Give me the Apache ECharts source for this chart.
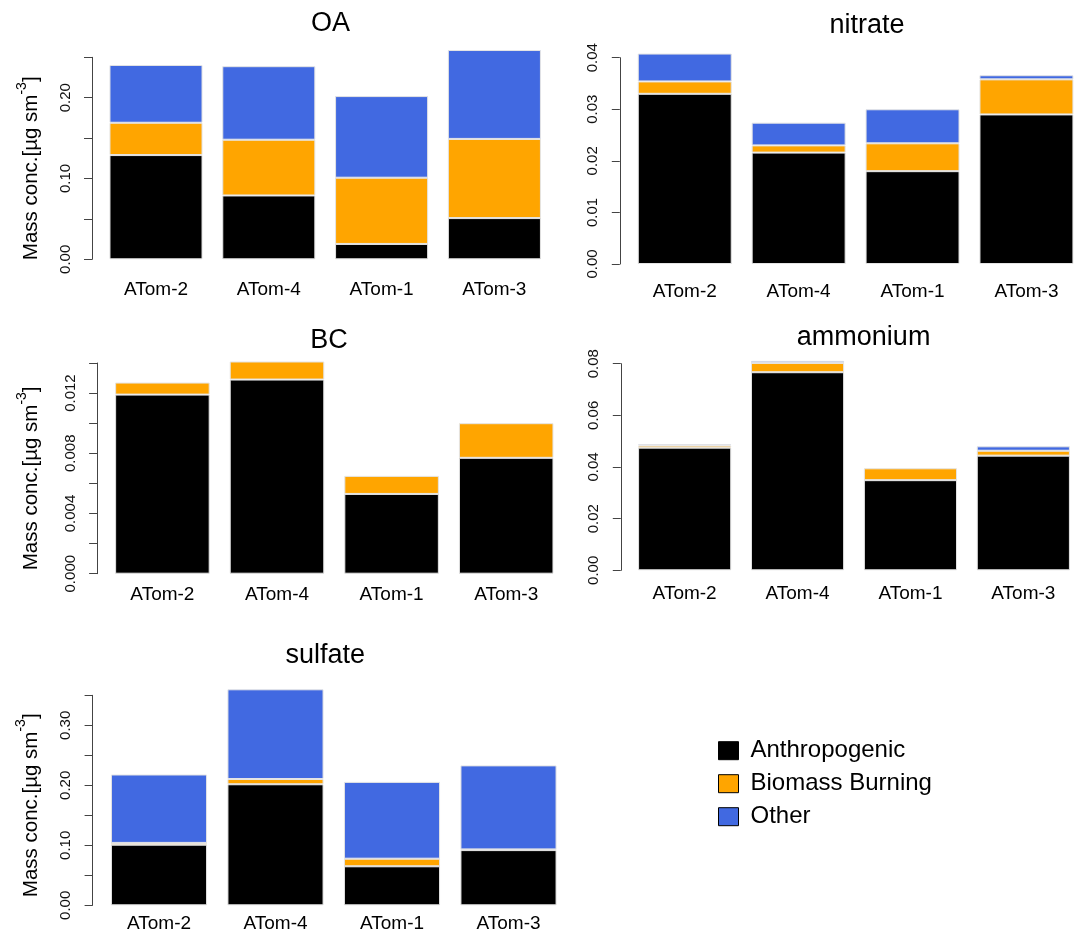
<!DOCTYPE html>
<html>
<head>
<meta charset="utf-8">
<script src="https://cdn.jsdelivr.net/npm/echarts@6/dist/echarts.min.js"></script>
<style>
html,body{margin:0;padding:0;background:#fff;}
#chart{width:1077px;height:934px;}
</style>
</head>
<body>
<div id="chart"></div>
<script>
// ---------------- data ----------------
const categories = ['ATom-2', 'ATom-4', 'ATom-1', 'ATom-3'];
const seriesNames = ['Anthropogenic', 'Biomass Burning', 'Other'];

const oaAnthro   = [0.129, 0.079, 0.019, 0.051];
const oaBiomass  = [0.040, 0.069, 0.082, 0.098];
const oaOther    = [0.0715, 0.091, 0.101, 0.110];

const nitrateAnthro  = [0.0330, 0.0216, 0.0180, 0.0290];
const nitrateBiomass = [0.0024, 0.0014, 0.0054, 0.0068];
const nitrateOther   = [0.0054, 0.0044, 0.0066, 0.0008];

const bcAnthro  = [0.0119, 0.0129, 0.0053, 0.0077];
const bcBiomass = [0.0008, 0.0012, 0.0012, 0.0023];
const bcOther   = [null, null, null, null];

const ammoniumAnthro  = [0.0475, 0.0767, 0.0349, 0.0444];
const ammoniumBiomass = [0.0008, 0.0036, 0.0046, 0.0019];
const ammoniumOther   = [0.0005, 0.0008, null, 0.0017];

const sulfateAnthro  = [0.101, 0.2017, 0.065, 0.092];
const sulfateBiomass = [0.003, 0.0088, 0.0127, 0.0012];
const sulfateOther   = [0.114, 0.1495, 0.128, 0.140];

const oaTicks       = ['0.00', '', '0.10', '', '0.20', ''];
const nitrateTicks  = ['0.00', '0.01', '0.02', '0.03', '0.04'];
const bcTicks       = ['0.000', '', '0.004', '', '0.008', '', '0.012', ''];
const ammoniumTicks = ['0.00', '0.02', '0.04', '0.06', '0.08'];
const sulfateTicks  = ['0.00', '', '0.10', '', '0.20', '', '0.30', ''];

// ---------------- layout / style ----------------
const FONT = '"Liberation Sans", Arial, Helvetica, sans-serif';
const colors = ['#000000', '#FFA500', '#4169E1'];

const panels = [
  {title: 'OA', values: [oaAnthro, oaBiomass, oaOther], ticks: oaTicks, max: 0.25, interval: 0.05,
   grid: {left: 99.6, width: 451.2, top: 57.3, height: 202}, axisX: 92, catMargin: 21,
   titlePos: [330.6, 24], yName: true, nameGap: 50, namePad: 20},
  {title: 'nitrate', values: [nitrateAnthro, nitrateBiomass, nitrateOther], ticks: nitrateTicks, max: 0.04, interval: 0.01,
   grid: {left: 627.8, width: 455.6, top: 57.7, height: 206.3}, axisX: 619.8, catMargin: 18,
   titlePos: [867, 25.6], yName: false},
  {title: 'BC', values: [bcAnthro, bcBiomass, bcOther], ticks: bcTicks, max: 0.014, interval: 0.002,
   grid: {left: 105.1, width: 458.4, top: 363, height: 210.7}, axisX: 97.1, catMargin: 12,
   titlePos: [328.9, 340.6], yName: true, nameGap: 55, namePad: 20},
  {title: 'ammonium', values: [ammoniumAnthro, ammoniumBiomass, ammoniumOther], ticks: ammoniumTicks, max: 0.08, interval: 0.02,
   grid: {left: 628.2, width: 451.6, top: 363.7, height: 206.6}, axisX: 620.8, catMargin: 13.5,
   titlePos: [863.6, 337.3], yName: false},
  {title: 'sulfate', values: [sulfateAnthro, sulfateBiomass, sulfateOther], ticks: sulfateTicks, max: 0.35, interval: 0.05,
   grid: {left: 100.75, width: 466, top: 695.3, height: 210}, axisX: 92.6, catMargin: 8.5,
   titlePos: [325.3, 655.6], yName: true, nameGap: 51, namePad: 10}
];

const grids = [], xAxes = [], yAxes = [], series = [], graphics = [];

panels.forEach(function (p, i) {
  grids.push(Object.assign({containLabel: false, outerBoundsMode: 'none'}, p.grid));
  xAxes.push({
    type: 'category', gridIndex: i, data: categories,
    axisLine: {show: false}, axisTick: {show: false},
    axisLabel: {fontSize: 19, color: '#000', fontFamily: FONT, margin: p.catMargin, interval: 0}
  });
  const ticks = p.ticks;
  const y = {
    type: 'value', gridIndex: i, min: 0, max: p.max, interval: p.interval,
    offset: p.grid.left - p.axisX,
    splitLine: {show: false},
    axisLine: {show: true, lineStyle: {color: '#444', width: 1}},
    axisTick: {show: true, length: 8, lineStyle: {color: '#444', width: 1}},
    axisLabel: {
      rotate: 90, fontSize: 15, color: '#111', fontFamily: FONT, margin: 19,
      formatter: function (v, idx) { return ticks[idx] !== undefined ? ticks[idx] : ''; }
    }
  };
  if (p.yName) {
    y.name = '{a|Mass conc.[µg sm}{s|-3}{a|]}';
    y.nameLocation = 'middle';
    y.nameRotate = 90;
    y.nameGap = p.nameGap;
    y.nameTextStyle = {
      fontSize: 20, fontFamily: FONT, color: '#000', padding: [0, p.namePad, 0, 0],
      rich: {
        a: {fontSize: 20.5, lineHeight: 27, verticalAlign: 'bottom', fontFamily: FONT, color: '#000'},
        s: {fontSize: 14, lineHeight: 16, verticalAlign: 'top', fontFamily: FONT, color: '#000'}
      }
    };
  }
  yAxes.push(y);
  p.values.forEach(function (vals, k) {
    series.push({
      type: 'bar', name: seriesNames[k], xAxisIndex: i, yAxisIndex: i,
      stack: 'panel' + i, data: vals, barWidth: '82.5%', clip: false,
      itemStyle: {color: colors[k], borderColor: '#e4e4e4', borderWidth: 1},
      emphasis: {disabled: true}, animation: false
    });
  });
  graphics.push({
    type: 'text', x: p.titlePos[0], y: p.titlePos[1],
    style: {text: p.title, fontSize: 27, fontFamily: FONT, fill: '#000',
            align: 'center', verticalAlign: 'middle', textAlign: 'center', textVerticalAlign: 'middle'}
  });
});

const chart = echarts.init(document.getElementById('chart'), null, {renderer: 'canvas'});
chart.setOption({
  backgroundColor: '#ffffff',
  animation: false,
  grid: grids,
  xAxis: xAxes,
  yAxis: yAxes,
  series: series,
  graphic: graphics,
  legend: {
    orient: 'vertical', left: 718, top: 738.7, padding: 0,
    itemWidth: 20, itemHeight: 18, itemGap: 9, icon: 'rect',
    selectedMode: false,
    textStyle: {fontSize: 24, fontFamily: FONT, color: '#000', padding: [0, 0, 0, 7]},
    data: seriesNames.map(function (n, k) {
      return {name: n, itemStyle: {color: colors[k], borderColor: '#000', borderWidth: 1}};
    })
  }
});
</script>
</body>
</html>
